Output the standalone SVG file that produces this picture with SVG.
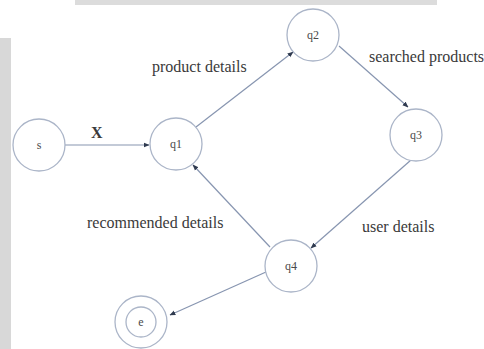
<svg xmlns="http://www.w3.org/2000/svg" width="484" height="349" viewBox="0 0 484 349">
<style>
.node{fill:#ffffff;stroke:#abb5c8;stroke-width:1.3}
.nl{font-family:"Liberation Serif","Times New Roman",serif;font-size:12px;fill:#4a4a4a;text-anchor:middle}
.el{font-family:"Liberation Serif","Times New Roman",serif;font-size:16px;fill:#3a3a3a}
.edge{stroke:#8795b0;stroke-width:1.2;fill:none;marker-end:url(#arr)}
</style>
<defs>
<marker id="arr" viewBox="0 0 10 10" refX="9" refY="5" markerWidth="6" markerHeight="6" markerUnits="userSpaceOnUse" orient="auto">
<path d="M0,1 L10,5 L0,9 z" fill="#2f3a4f"/>
</marker>
</defs>
<rect x="0" y="0" width="484" height="349" fill="#ffffff"/>
<rect x="75" y="0" width="362" height="5" fill="#dcdcdc"/>
<rect x="0" y="38" width="11" height="311" fill="#d8d8d8"/>
<g id="connectors">
<line class="edge" x1="65" y1="145" x2="149" y2="145"/>
<line class="edge" x1="196" y1="127" x2="293" y2="52"/>
<line class="edge" x1="339" y1="46" x2="408" y2="107"/>
<line class="edge" x1="411" y1="160" x2="311" y2="248"/>
<line class="edge" x1="270" y1="247" x2="193" y2="165"/>
<line class="edge" x1="266" y1="272" x2="170" y2="315"/>
</g>
<g id="labels">
<text class="el" x="91" y="138" font-weight="bold" font-size="15" fill="#444">X</text>
<text class="el" x="152" y="72">product details</text>
<text class="el" x="369" y="62">searched products</text>
<text class="el" x="87" y="228">recommended details</text>
<text class="el" x="362" y="232">user details</text>
</g>
<g id="node-s"><circle class="node" cx="39" cy="145" r="26"/><text class="nl" x="39" y="149">s</text></g>
<g id="node-q1"><circle class="node" cx="176" cy="144" r="26"/><text class="nl" x="176" y="148">q1</text></g>
<g id="node-q2"><circle class="node" cx="313" cy="35" r="26"/><text class="nl" x="313" y="39">q2</text></g>
<g id="node-q3"><circle class="node" cx="416" cy="135" r="26"/><text class="nl" x="416" y="139">q3</text></g>
<g id="node-q4"><circle class="node" cx="291" cy="266" r="26"/><text class="nl" x="291" y="270">q4</text></g>
<g id="node-e"><circle class="node" cx="141" cy="322" r="26"/><circle class="node" cx="141" cy="322" r="15"/><text class="nl" x="141" y="326">e</text></g>
</svg>
